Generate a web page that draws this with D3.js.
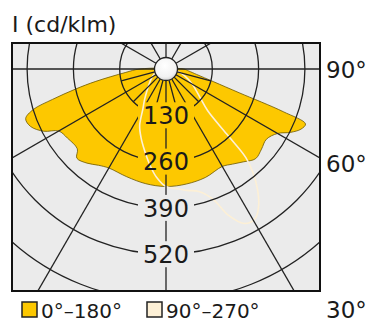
<!DOCTYPE html>
<html>
<head>
<meta charset="utf-8">
<script src="https://cdn.jsdelivr.net/npm/d3@7"></script>
<style>
  html, body { margin: 0; padding: 0; background: #ffffff; }
  svg { display: block; }
  text { font-family: "DejaVu Sans", sans-serif; fill: #1a1a1a; }
</style>
</head>
<body>
<svg id="chart" width="367" height="324"></svg>
<script>
// ---- data (angle from nadir in degrees, intensity in cd/klm) ----
const c0Angles   = [0, 10, 20, 30, 35, 40, 45, 50, 55, 60, 63, 66, 68.5, 70, 72, 75, 80, 85, 90];
const c0Values   = [330, 328, 324, 316, 326, 340, 356, 350, 344, 362, 392, 415, 421, 350, 216, 139, 87, 64, 50];
const c180Angles = [0, 10, 20, 30, 35, 40, 45, 48, 55, 60, 63, 67, 70.5, 73, 75, 77.5, 80, 85, 90];
const c180Values = [330, 327, 322, 321, 330, 345, 354, 335, 338, 348, 385, 413, 418, 390, 330, 260, 200, 115, 73];
const c90Angles  = [0, 5, 10, 15, 20, 23, 27, 31, 34, 37, 40, 42, 43, 45, 50, 60, 70, 80, 90];
const c90Values  = [330, 337, 346, 356, 390, 445, 487, 488, 465, 428, 380, 335, 250, 165, 125, 85, 55, 30, 10];
const c270Angles = [0, 5, 10, 15, 20, 25, 30, 35, 40, 50, 60, 70, 80, 90];
const c270Values = [330, 305, 270, 235, 205, 175, 130, 105, 85, 60, 45, 32, 22, 10];

const ringValues  = [130, 260, 390, 520, 650];
const ringLabels  = ["130", "260", "390", "520"];
const mainSpokes  = [0, 30, 60, 90, 120, 150, 180];
const minorSpokes = [15, 45, 75];
const angleLabels = ["90°", "60°", "30°"];
const legendLabels = ["0°–180°", "90°–270°"];
const titleText = "I (cd/klm)";

// ---- layout ----
const svg = d3.select("#chart");
const cx = 166, cy = 69;
const box = { x0: 12, y0: 43, x1: 320, y1: 291 };
const r = d3.scaleLinear().domain([0, 130]).range([0, 46.3]);
const hubR = 11.5;
const yellow = "#fdc800", cream = "#fdf0d6", gridCol = "#222", bg = "#ebebeb";

const defs = svg.append("defs");
defs.append("clipPath").attr("id", "boxClip")
  .append("rect").attr("x", box.x0).attr("y", box.y0)
  .attr("width", box.x1 - box.x0).attr("height", box.y1 - box.y0);

const grad = defs.append("radialGradient").attr("id", "hubGrad")
  .attr("cx", "45%").attr("cy", "35%").attr("r", "70%");
grad.append("stop").attr("offset", "0%").attr("stop-color", "#ffffff");
grad.append("stop").attr("offset", "70%").attr("stop-color", "#f2f2f2");
grad.append("stop").attr("offset", "100%").attr("stop-color", "#cfcfcf");

// mask with gaps around ring labels
const mask = defs.append("mask").attr("id", "labelMask").attr("maskUnits", "userSpaceOnUse")
  .attr("x", 0).attr("y", 0).attr("width", 367).attr("height", 324);
mask.append("rect").attr("width", 367).attr("height", 324).attr("fill", "white");
ringLabels.forEach((t, i) => {
  const yy = cy + r(ringValues[i]);
  mask.append("rect").attr("x", cx - 28).attr("y", yy - 13).attr("width", 56).attr("height", 26).attr("fill", "black");
});

// background
svg.append("rect").attr("x", box.x0).attr("y", box.y0)
  .attr("width", box.x1 - box.x0).attr("height", box.y1 - box.y0).attr("fill", bg);

const plot = svg.append("g").attr("clip-path", "url(#boxClip)");
const center = plot.append("g").attr("transform", `translate(${cx},${cy})`);

// radial line: nadir is down; right side angle = π - θ, left side = π + θ
const rad = d => d * Math.PI / 180;
function planePoints(leftAngles, leftVals, rightAngles, rightVals) {
  const pts = [];
  for (let i = leftAngles.length - 1; i >= 0; i--) pts.push([Math.PI + rad(leftAngles[i]), r(leftVals[i])]);
  for (let i = 1; i < rightAngles.length; i++) pts.push([Math.PI - rad(rightAngles[i]), r(rightVals[i])]);
  return pts;
}
const radial = d3.lineRadial().angle(d => d[0]).radius(d => d[1]).curve(d3.curveCatmullRomClosed.alpha(0.5));

// 0-180 filled
center.append("path")
  .attr("d", radial(planePoints(c180Angles, c180Values, c0Angles, c0Values)))
  .attr("fill", yellow).attr("stroke", "#6b5800").attr("stroke-width", 0.8);

// 90-270 outline
center.append("path")
  .attr("d", radial(planePoints(c270Angles, c270Values, c90Angles, c90Values)))
  .attr("fill", "none").attr("stroke", cream).attr("stroke-width", 1.6);

// grid
const grid = center.append("g").attr("mask", "url(#labelMask)")
  .attr("transform", `translate(${-cx},${-cy})`)
  .append("g").attr("transform", `translate(${cx},${cy})`);
grid.selectAll("circle.ring").data(ringValues).join("circle")
  .attr("class", "ring").attr("r", d => r(d))
  .attr("fill", "none").attr("stroke", gridCol).attr("stroke-width", 1.3);

const spokeData = [];
mainSpokes.forEach(a => { spokeData.push({ a, s: 1, len: 500 }); if (a !== 0 && a !== 180) spokeData.push({ a, s: -1, len: 500 }); });
minorSpokes.forEach(a => { spokeData.push({ a, s: 1, len: r(130) }); spokeData.push({ a, s: -1, len: r(130) }); });
grid.selectAll("line.spoke").data(spokeData).join("line")
  .attr("class", "spoke")
  .attr("x1", d => d.s * hubR * Math.sin(rad(d.a))).attr("y1", d => hubR * Math.cos(rad(d.a)))
  .attr("x2", d => d.s * d.len * Math.sin(rad(d.a))).attr("y2", d => d.len * Math.cos(rad(d.a)))
  .attr("stroke", gridCol).attr("stroke-width", 1.3);

// hub
center.append("circle").attr("r", hubR).attr("fill", "url(#hubGrad)").attr("stroke", gridCol).attr("stroke-width", 1.3);

// frame
svg.append("rect").attr("x", box.x0).attr("y", box.y0)
  .attr("width", box.x1 - box.x0).attr("height", box.y1 - box.y0)
  .attr("fill", "none").attr("stroke", "#111").attr("stroke-width", 2);

// ring labels
svg.selectAll("text.ring").data(ringLabels).join("text")
  .attr("class", "ring").attr("x", cx).attr("y", (d, i) => cy + r(ringValues[i]) + 8.6)
  .attr("text-anchor", "middle").attr("font-size", 24).text(d => d);

// angle labels (right)
const angleY = [78, 172, 318];
svg.selectAll("text.ang").data(angleLabels).join("text")
  .attr("class", "ang").attr("x", 326).attr("y", (d, i) => angleY[i])
  .attr("font-size", 23).text(d => d);

// title
svg.append("text").attr("x", 12).attr("y", 32).attr("font-size", 22).text(titleText);

// legend
const legX = [22, 147];
const legFill = [yellow, cream];
legendLabels.forEach((t, i) => {
  svg.append("rect").attr("x", legX[i]).attr("y", 302).attr("width", 15).attr("height", 15)
    .attr("fill", legFill[i]).attr("stroke", "#222").attr("stroke-width", 1.5);
  svg.append("text").attr("x", legX[i] + 19).attr("y", 318).attr("font-size", 20).text(t);
});
</script>
</body>
</html>
